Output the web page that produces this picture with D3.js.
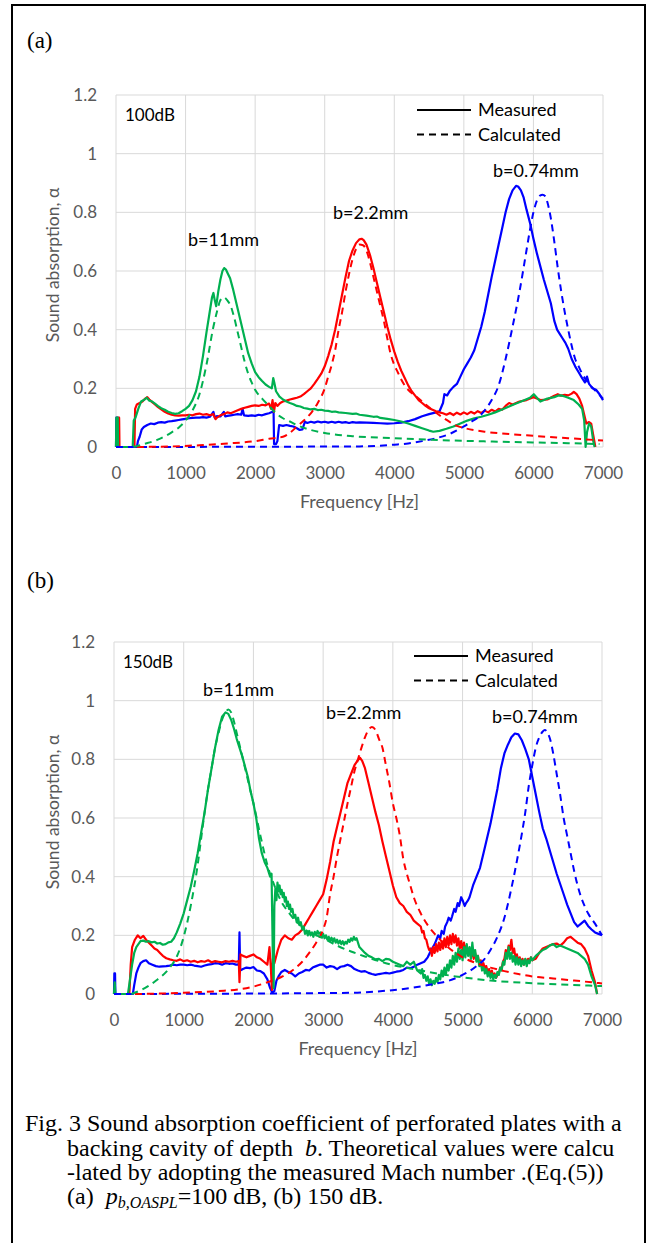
<!DOCTYPE html>
<html>
<head>
<meta charset="utf-8">
<title>Sound absorption</title>
<style>
  body { margin: 0; background: #fff; }
  svg { display: block; }
</style>
</head>
<body>
<div id="chart"></div>
<script src="https://cdnjs.cloudflare.com/ajax/libs/d3/7.8.5/d3.min.js"></script>
<script>
// axis ticks
var xTicks = [0, 1000, 2000, 3000, 4000, 5000, 6000, 7000];
var yTicks = [0, 0.2, 0.4, 0.6, 0.8, 1, 1.2];

// (a) 100 dB, measured  [frequency Hz, alpha]
var meas100Green = [[0,0],[5,0.1],[25,0.1],[30,0],[240,0],[255,0.09],[280,0.1],[320,0.13],[360,0.155],[400,0.16],[440,0.168],[480,0.158],[520,0.155],[560,0.148],[600,0.14],[650,0.132],[700,0.127],[750,0.12],[800,0.116],[850,0.113],[900,0.115],[950,0.122],[1000,0.13],[1050,0.14],[1100,0.16],[1150,0.19],[1200,0.24],[1250,0.31],[1300,0.39],[1340,0.45],[1380,0.51],[1400,0.525],[1420,0.5],[1440,0.48],[1470,0.53],[1500,0.57],[1530,0.6],[1555,0.61],[1580,0.605],[1610,0.59],[1640,0.575],[1680,0.54],[1720,0.5],[1760,0.46],[1800,0.42],[1850,0.37],[1900,0.32],[1950,0.285],[2000,0.255],[2050,0.238],[2100,0.225],[2150,0.213],[2200,0.205],[2240,0.2],[2260,0.235],[2275,0.22],[2300,0.19],[2350,0.172],[2400,0.162],[2450,0.155],[2500,0.15],[2550,0.146],[2600,0.14],[2650,0.138],[2700,0.133],[2750,0.131],[2800,0.128],[2850,0.13],[2900,0.126],[2950,0.127],[3000,0.124],[3050,0.123],[3100,0.12],[3150,0.121],[3200,0.118],[3300,0.116],[3400,0.113],[3450,0.114],[3500,0.11],[3600,0.107],[3700,0.103],[3750,0.104],[3800,0.099],[3900,0.096],[4000,0.092],[4100,0.087],[4200,0.08],[4300,0.072],[4400,0.064],[4500,0.056],[4560,0.052],[4650,0.055],[4750,0.062],[4850,0.07],[4950,0.08],[5050,0.09],[5150,0.098],[5250,0.103],[5350,0.11],[5450,0.118],[5550,0.128],[5650,0.138],[5750,0.148],[5850,0.158],[5950,0.168],[6005,0.18],[6050,0.168],[6100,0.155],[6150,0.16],[6200,0.165],[6300,0.17],[6350,0.175],[6400,0.176],[6450,0.172],[6500,0.168],[6580,0.16],[6650,0.145],[6700,0.13],[6730,0.09],[6750,0],[6770,0.05],[6800,0.08],[6830,0.07],[6860,0.02],[6880,0]];
var meas100Red = [[0,0],[25,0],[30,0.1],[45,0.1],[50,0],[265,0],[275,0.13],[300,0.145],[340,0.15],[380,0.155],[420,0.165],[450,0.17],[480,0.162],[520,0.153],[560,0.145],[600,0.137],[650,0.128],[700,0.12],[750,0.114],[800,0.11],[850,0.108],[900,0.107],[950,0.108],[1000,0.108],[1050,0.11],[1100,0.108],[1150,0.112],[1200,0.114],[1250,0.11],[1300,0.112],[1350,0.108],[1400,0.112],[1430,0.095],[1450,0.1],[1500,0.108],[1550,0.112],[1600,0.118],[1650,0.115],[1700,0.12],[1750,0.125],[1800,0.13],[1850,0.134],[1900,0.137],[1950,0.14],[2000,0.142],[2050,0.14],[2100,0.144],[2150,0.142],[2200,0.148],[2230,0.13],[2250,0.16],[2270,0.12],[2290,0.15],[2320,0.14],[2360,0.15],[2400,0.155],[2450,0.158],[2500,0.162],[2550,0.165],[2600,0.168],[2650,0.172],[2700,0.18],[2750,0.19],[2800,0.2],[2850,0.215],[2900,0.232],[2950,0.25],[3000,0.275],[3050,0.31],[3100,0.35],[3150,0.4],[3200,0.46],[3250,0.52],[3300,0.58],[3350,0.635],[3400,0.67],[3450,0.695],[3500,0.708],[3530,0.71],[3560,0.705],[3600,0.69],[3650,0.655],[3700,0.61],[3750,0.56],[3800,0.51],[3850,0.46],[3900,0.41],[3950,0.365],[4000,0.325],[4050,0.29],[4100,0.26],[4150,0.235],[4200,0.21],[4250,0.19],[4300,0.175],[4350,0.16],[4400,0.15],[4450,0.14],[4500,0.132],[4550,0.127],[4600,0.122],[4650,0.118],[4700,0.115],[4750,0.11],[4800,0.116],[4850,0.109],[4900,0.117],[4950,0.111],[5000,0.118],[5050,0.112],[5100,0.12],[5150,0.114],[5200,0.122],[5250,0.116],[5300,0.124],[5350,0.118],[5400,0.127],[5450,0.121],[5500,0.13],[5550,0.127],[5600,0.14],[5650,0.15],[5700,0.145],[5800,0.155],[5900,0.16],[6000,0.17],[6050,0.165],[6100,0.16],[6200,0.162],[6300,0.175],[6350,0.18],[6400,0.175],[6450,0.178],[6500,0.176],[6550,0.182],[6580,0.188],[6620,0.18],[6660,0.165],[6700,0.14],[6730,0.11],[6760,0.08],[6800,0.085],[6830,0.08],[6860,0.04],[6890,0]];
var meas100Blue = [[0,0],[5,0.1],[20,0.1],[25,0],[300,0],[315,0.02],[340,0.035],[370,0.06],[400,0.068],[450,0.075],[500,0.08],[550,0.078],[600,0.083],[650,0.085],[700,0.083],[750,0.087],[800,0.088],[850,0.09],[900,0.092],[950,0.094],[1000,0.096],[1050,0.098],[1100,0.099],[1150,0.1],[1200,0.1],[1250,0.102],[1300,0.1],[1350,0.103],[1400,0.12],[1420,0.1],[1450,0.105],[1500,0.104],[1550,0.12],[1570,0.104],[1600,0.106],[1650,0.108],[1700,0.11],[1750,0.112],[1800,0.11],[1820,0.13],[1840,0.108],[1900,0.106],[1950,0.108],[2000,0.106],[2050,0.11],[2100,0.108],[2150,0.112],[2200,0.115],[2250,0.12],[2265,0.12],[2272,0.01],[2300,0.01],[2320,0.02],[2345,0.075],[2400,0.072],[2450,0.075],[2500,0.072],[2550,0.07],[2600,0.064],[2640,0.058],[2680,0.06],[2715,0.086],[2750,0.082],[2800,0.086],[2850,0.083],[2900,0.087],[2950,0.084],[3000,0.086],[3050,0.083],[3100,0.086],[3150,0.083],[3200,0.086],[3250,0.083],[3300,0.085],[3350,0.082],[3400,0.085],[3450,0.083],[3500,0.084],[3600,0.083],[3700,0.082],[3800,0.081],[3900,0.08],[4000,0.081],[4100,0.083],[4200,0.088],[4300,0.095],[4400,0.105],[4500,0.112],[4600,0.118],[4650,0.122],[4700,0.15],[4720,0.18],[4760,0.176],[4800,0.192],[4850,0.205],[4900,0.215],[4950,0.24],[5000,0.265],[5050,0.285],[5100,0.305],[5150,0.33],[5200,0.37],[5250,0.41],[5300,0.46],[5350,0.52],[5400,0.58],[5450,0.635],[5500,0.69],[5550,0.745],[5600,0.8],[5650,0.845],[5700,0.875],[5750,0.89],[5780,0.888],[5820,0.875],[5860,0.85],[5900,0.81],[5950,0.765],[6000,0.71],[6050,0.66],[6100,0.615],[6150,0.57],[6200,0.53],[6250,0.49],[6300,0.43],[6340,0.4],[6380,0.385],[6420,0.37],[6460,0.355],[6500,0.335],[6550,0.3],[6600,0.275],[6650,0.255],[6700,0.235],[6740,0.22],[6770,0.24],[6800,0.215],[6850,0.2],[6900,0.195],[6950,0.18],[7000,0.16]];

// (a) 100 dB, calculated
var calc100Green = [[250,0],[400,0.01],[600,0.025],[800,0.05],[900,0.066],[1000,0.09],[1100,0.125],[1200,0.18],[1300,0.28],[1400,0.41],[1450,0.46],[1500,0.5],[1550,0.51],[1600,0.5],[1650,0.48],[1700,0.44],[1750,0.39],[1800,0.34],[1850,0.29],[1900,0.25],[1950,0.22],[2000,0.195],[2100,0.165],[2200,0.14],[2300,0.115],[2400,0.098],[2500,0.087],[2600,0.075],[2800,0.058],[3000,0.048],[3400,0.037],[4000,0.03],[4500,0.025],[5500,0.018],[6500,0.013],[6950,0.01]];
var calc100Red = [[300,0],[800,0.002],[1200,0.006],[1600,0.012],[2000,0.02],[2200,0.028],[2400,0.035],[2500,0.048],[2600,0.07],[2700,0.09],[2800,0.115],[2900,0.15],[3000,0.2],[3050,0.24],[3100,0.28],[3150,0.33],[3200,0.4],[3250,0.46],[3300,0.53],[3350,0.59],[3400,0.64],[3450,0.675],[3500,0.69],[3550,0.688],[3600,0.67],[3650,0.63],[3700,0.58],[3750,0.53],[3800,0.48],[3850,0.43],[3900,0.37],[3950,0.315],[4000,0.28],[4050,0.255],[4100,0.23],[4150,0.21],[4200,0.195],[4300,0.175],[4400,0.155],[4500,0.135],[4600,0.117],[4700,0.1],[4800,0.085],[4900,0.072],[5000,0.065],[5300,0.052],[5600,0.045],[6000,0.038],[6500,0.03],[7000,0.022]];
var calc100Blue = [[0,0],[3500,0.002],[4000,0.008],[4200,0.012],[4400,0.02],[4600,0.03],[4800,0.045],[5000,0.07],[5100,0.085],[5200,0.1],[5300,0.125],[5400,0.16],[5500,0.21],[5600,0.3],[5700,0.41],[5800,0.53],[5900,0.67],[5950,0.74],[6000,0.8],[6050,0.84],[6100,0.858],[6130,0.86],[6170,0.855],[6200,0.835],[6250,0.78],[6300,0.7],[6350,0.61],[6400,0.53],[6450,0.46],[6500,0.4],[6550,0.345],[6600,0.3],[6650,0.275],[6700,0.25],[6800,0.215],[6900,0.19],[7000,0.165]];

// (b) 150 dB, measured
var meas150Green = [[0,0],[10,0.04],[20,0],[200,0],[230,0.05],[260,0.1],[290,0.14],[320,0.16],[350,0.17],[380,0.18],[420,0.182],[460,0.178],[500,0.18],[540,0.176],[580,0.178],[620,0.172],[660,0.174],[700,0.168],[740,0.17],[780,0.176],[820,0.178],[860,0.19],[900,0.21],[950,0.24],[1000,0.275],[1050,0.32],[1100,0.365],[1150,0.42],[1200,0.48],[1250,0.55],[1300,0.62],[1350,0.7],[1400,0.77],[1450,0.84],[1500,0.9],[1550,0.945],[1600,0.96],[1640,0.955],[1680,0.935],[1720,0.905],[1760,0.87],[1800,0.84],[1840,0.81],[1880,0.775],[1920,0.74],[1960,0.69],[2000,0.65],[2040,0.6],[2080,0.53],[2120,0.48],[2160,0.45],[2200,0.43],[2240,0.4],[2260,0.41],[2280,0.1],[2290,0.02],[2300,0.3],[2315,0.36],[2330,0.32],[2345,0.38],[2360,0.35],[2375,0.37],[2390,0.34],[2405,0.355],[2420,0.33],[2435,0.345],[2450,0.315],[2465,0.33],[2480,0.3],[2495,0.315],[2510,0.29],[2525,0.305],[2540,0.28],[2560,0.29],[2580,0.26],[2600,0.27],[2620,0.245],[2640,0.26],[2660,0.235],[2680,0.245],[2700,0.22],[2720,0.23],[2740,0.205],[2760,0.215],[2780,0.2],[2800,0.215],[2820,0.2],[2840,0.21],[2860,0.195],[2880,0.212],[2900,0.2],[2920,0.215],[2940,0.205],[2960,0.21],[2980,0.195],[3000,0.205],[3020,0.19],[3040,0.2],[3060,0.185],[3080,0.195],[3100,0.18],[3120,0.192],[3140,0.178],[3160,0.19],[3180,0.175],[3200,0.185],[3220,0.172],[3240,0.182],[3260,0.17],[3280,0.18],[3300,0.168],[3320,0.178],[3340,0.172],[3360,0.185],[3380,0.178],[3400,0.19],[3420,0.182],[3440,0.195],[3460,0.185],[3480,0.19],[3520,0.16],[3560,0.15],[3600,0.14],[3650,0.13],[3700,0.125],[3750,0.118],[3800,0.12],[3850,0.112],[3900,0.12],[3950,0.118],[4000,0.11],[4050,0.105],[4100,0.1],[4150,0.095],[4200,0.11],[4250,0.1],[4300,0.11],[4350,0.08],[4400,0.07],[4420,0.085],[4440,0.055],[4460,0.065],[4480,0.045],[4500,0.06],[4520,0.035],[4540,0.05],[4560,0.03],[4580,0.045],[4600,0.035],[4620,0.055],[4640,0.04],[4660,0.065],[4680,0.05],[4700,0.08],[4720,0.06],[4740,0.09],[4760,0.065],[4780,0.1],[4800,0.08],[4820,0.115],[4840,0.09],[4860,0.13],[4880,0.1],[4900,0.14],[4920,0.11],[4940,0.155],[4960,0.12],[4980,0.15],[5000,0.115],[5020,0.16],[5040,0.125],[5060,0.17],[5080,0.13],[5100,0.16],[5120,0.12],[5140,0.175],[5160,0.13],[5180,0.15],[5200,0.11],[5220,0.13],[5240,0.095],[5260,0.11],[5280,0.08],[5300,0.095],[5320,0.07],[5340,0.085],[5360,0.06],[5380,0.075],[5400,0.055],[5420,0.07],[5440,0.05],[5460,0.065],[5480,0.055],[5500,0.075],[5520,0.065],[5540,0.09],[5560,0.08],[5580,0.11],[5600,0.1],[5620,0.14],[5640,0.12],[5660,0.16],[5680,0.12],[5700,0.14],[5720,0.11],[5740,0.13],[5760,0.1],[5780,0.125],[5800,0.1],[5820,0.12],[5840,0.095],[5860,0.115],[5880,0.1],[5900,0.12],[5920,0.095],[5940,0.115],[5960,0.105],[5980,0.125],[6000,0.115],[6050,0.13],[6100,0.14],[6150,0.15],[6200,0.155],[6250,0.165],[6300,0.17],[6350,0.16],[6400,0.165],[6450,0.16],[6500,0.155],[6550,0.15],[6600,0.145],[6650,0.14],[6700,0.13],[6750,0.12],[6800,0.1],[6850,0.06],[6900,0.03],[6930,0]];
var meas150Red = [[0,0],[220,0],[240,0.1],[260,0.16],[300,0.185],[340,0.2],[380,0.19],[420,0.198],[460,0.185],[500,0.175],[540,0.165],[580,0.155],[620,0.15],[660,0.14],[700,0.13],[750,0.122],[800,0.118],[850,0.115],[900,0.113],[950,0.118],[1000,0.112],[1050,0.115],[1100,0.11],[1150,0.113],[1200,0.108],[1250,0.112],[1300,0.11],[1350,0.115],[1400,0.108],[1450,0.112],[1500,0.11],[1550,0.108],[1600,0.112],[1650,0.11],[1700,0.113],[1750,0.11],[1790,0.112],[1800,0.04],[1815,0.135],[1850,0.13],[1900,0.125],[1950,0.13],[2000,0.135],[2050,0.125],[2100,0.12],[2150,0.11],[2200,0.1],[2230,0.16],[2250,0.09],[2265,0.014],[2280,0.12],[2300,0.105],[2350,0.15],[2400,0.185],[2450,0.2],[2500,0.19],[2550,0.185],[2600,0.2],[2650,0.207],[2700,0.22],[2750,0.24],[2800,0.26],[2850,0.28],[2900,0.3],[2950,0.32],[3000,0.34],[3050,0.39],[3100,0.45],[3150,0.52],[3200,0.57],[3250,0.62],[3300,0.67],[3350,0.72],[3400,0.75],[3450,0.78],[3500,0.798],[3530,0.805],[3560,0.795],[3600,0.77],[3650,0.72],[3700,0.67],[3750,0.62],[3800,0.575],[3850,0.52],[3900,0.47],[3950,0.42],[4000,0.37],[4050,0.33],[4100,0.31],[4150,0.3],[4200,0.28],[4250,0.27],[4300,0.25],[4350,0.24],[4400,0.23],[4420,0.21],[4440,0.215],[4460,0.19],[4480,0.185],[4500,0.165],[4520,0.15],[4540,0.155],[4560,0.13],[4580,0.16],[4600,0.14],[4620,0.17],[4640,0.145],[4660,0.175],[4680,0.15],[4700,0.18],[4720,0.155],[4740,0.19],[4760,0.16],[4780,0.195],[4800,0.165],[4820,0.2],[4840,0.17],[4860,0.205],[4880,0.175],[4900,0.2],[4920,0.165],[4940,0.19],[4960,0.155],[4980,0.18],[5000,0.15],[5020,0.175],[5040,0.145],[5060,0.165],[5080,0.135],[5100,0.155],[5120,0.125],[5140,0.145],[5160,0.12],[5180,0.14],[5200,0.115],[5220,0.13],[5240,0.1],[5260,0.115],[5280,0.09],[5300,0.105],[5320,0.08],[5340,0.095],[5360,0.075],[5380,0.085],[5400,0.065],[5420,0.08],[5440,0.06],[5460,0.07],[5480,0.055],[5500,0.065],[5520,0.07],[5540,0.09],[5560,0.085],[5580,0.11],[5600,0.12],[5620,0.15],[5640,0.13],[5660,0.165],[5680,0.15],[5700,0.185],[5720,0.14],[5740,0.155],[5760,0.12],[5780,0.135],[5800,0.11],[5820,0.125],[5840,0.105],[5860,0.12],[5880,0.1],[5900,0.118],[5920,0.105],[5940,0.12],[5960,0.11],[5980,0.125],[6000,0.115],[6050,0.12],[6100,0.14],[6150,0.155],[6200,0.16],[6250,0.165],[6300,0.17],[6350,0.172],[6400,0.165],[6450,0.175],[6500,0.19],[6550,0.195],[6600,0.185],[6650,0.175],[6700,0.17],[6750,0.155],[6800,0.13],[6850,0.08],[6900,0.04],[6930,0]];
var meas150Blue = [[0,0],[5,0.07],[15,0.07],[20,0],[270,0],[290,0.03],[320,0.07],[350,0.09],[380,0.105],[420,0.112],[460,0.115],[500,0.105],[550,0.1],[600,0.095],[650,0.093],[700,0.094],[750,0.095],[800,0.097],[850,0.1],[900,0.098],[950,0.1],[1000,0.1],[1050,0.098],[1100,0.1],[1150,0.097],[1200,0.095],[1250,0.093],[1300,0.097],[1350,0.1],[1400,0.102],[1450,0.105],[1500,0.104],[1550,0.1],[1600,0.105],[1650,0.103],[1700,0.104],[1750,0.1],[1790,0.1],[1800,0.21],[1810,0.08],[1850,0.085],[1900,0.09],[1950,0.088],[2000,0.092],[2050,0.08],[2100,0.078],[2150,0.07],[2200,0.05],[2240,0.02],[2270,0.005],[2300,0.01],[2330,0.045],[2360,0.06],[2400,0.075],[2450,0.082],[2500,0.075],[2550,0.07],[2600,0.06],[2650,0.07],[2700,0.075],[2750,0.082],[2800,0.08],[2850,0.09],[2900,0.095],[2950,0.1],[3000,0.1],[3050,0.09],[3100,0.095],[3150,0.093],[3200,0.085],[3250,0.093],[3300,0.095],[3350,0.1],[3400,0.095],[3450,0.085],[3500,0.08],[3550,0.076],[3600,0.078],[3650,0.072],[3700,0.068],[3750,0.065],[3800,0.068],[3850,0.07],[3900,0.072],[3950,0.07],[4000,0.073],[4050,0.076],[4100,0.078],[4150,0.082],[4200,0.09],[4250,0.088],[4300,0.093],[4350,0.1],[4400,0.105],[4450,0.11],[4500,0.125],[4550,0.15],[4600,0.17],[4650,0.2],[4680,0.19],[4700,0.215],[4730,0.205],[4750,0.23],[4780,0.245],[4800,0.26],[4830,0.25],[4850,0.265],[4880,0.29],[4900,0.28],[4930,0.31],[4950,0.3],[4980,0.33],[5000,0.32],[5030,0.3],[5050,0.31],[5080,0.32],[5100,0.33],[5150,0.37],[5200,0.4],[5250,0.43],[5300,0.48],[5350,0.53],[5400,0.58],[5450,0.64],[5500,0.7],[5550,0.77],[5600,0.82],[5650,0.85],[5700,0.875],[5750,0.888],[5800,0.885],[5850,0.865],[5900,0.835],[5950,0.8],[6000,0.74],[6050,0.68],[6100,0.62],[6150,0.565],[6200,0.53],[6250,0.49],[6300,0.45],[6350,0.41],[6400,0.375],[6450,0.34],[6500,0.305],[6550,0.275],[6600,0.245],[6650,0.23],[6700,0.24],[6750,0.25],[6800,0.232],[6850,0.22],[6900,0.21],[6950,0.205],[7000,0.2]];

// (b) 150 dB, calculated
var calc150Green = [[250,0],[400,0.015],[600,0.045],[800,0.09],[900,0.127],[1000,0.195],[1100,0.3],[1200,0.44],[1250,0.53],[1300,0.62],[1350,0.7],[1400,0.77],[1450,0.84],[1500,0.89],[1550,0.935],[1600,0.96],[1640,0.97],[1680,0.96],[1720,0.93],[1760,0.89],[1800,0.85],[1850,0.8],[1900,0.75],[1950,0.7],[2000,0.65],[2100,0.54],[2200,0.44],[2300,0.37],[2400,0.315],[2500,0.28],[2600,0.25],[2700,0.23],[2800,0.21],[2900,0.2],[3000,0.19],[3200,0.165],[3400,0.145],[3600,0.128],[3900,0.105],[4400,0.08],[4900,0.06],[5400,0.046],[6000,0.037],[7000,0.027]];
var calc150Red = [[300,0],[1000,0.004],[1500,0.01],[1800,0.016],[2000,0.025],[2200,0.04],[2400,0.058],[2600,0.088],[2700,0.11],[2800,0.14],[2900,0.175],[3000,0.22],[3050,0.26],[3100,0.34],[3150,0.4],[3200,0.47],[3250,0.53],[3300,0.59],[3350,0.65],[3400,0.705],[3450,0.76],[3500,0.8],[3550,0.84],[3600,0.875],[3650,0.9],[3700,0.91],[3750,0.9],[3800,0.87],[3850,0.84],[3900,0.78],[3950,0.72],[4000,0.65],[4050,0.6],[4100,0.54],[4150,0.46],[4200,0.41],[4250,0.37],[4300,0.33],[4400,0.275],[4500,0.235],[4600,0.205],[4700,0.18],[4800,0.158],[4900,0.14],[5000,0.125],[5200,0.105],[5400,0.09],[5600,0.078],[5800,0.068],[6000,0.06],[6300,0.053],[6600,0.046],[7000,0.036]];
var calc150Blue = [[0,0],[3400,0.004],[3900,0.011],[4300,0.022],[4600,0.035],[4800,0.045],[5000,0.065],[5100,0.078],[5200,0.095],[5300,0.115],[5400,0.15],[5500,0.195],[5600,0.26],[5700,0.36],[5800,0.48],[5850,0.546],[5900,0.62],[5950,0.71],[6000,0.78],[6050,0.84],[6100,0.875],[6150,0.895],[6180,0.9],[6220,0.89],[6260,0.865],[6300,0.82],[6350,0.75],[6400,0.68],[6450,0.6],[6500,0.54],[6550,0.48],[6600,0.42],[6650,0.37],[6700,0.33],[6750,0.3],[6800,0.275],[6900,0.24],[7000,0.2]];

var BLUE = "#0000ff", RED = "#ff0000", GREEN = "#00b050";
var uiFont = "Lato, 'Open Sans', sans-serif";
var serif = "'Liberation Serif', 'Times New Roman', serif";

var svg = d3.select("#chart").append("svg")
	.attr("width", 651)
	.attr("height", 1243);

// outer frame
svg.append("rect")
	.attr("x", 12).attr("y", 5)
	.attr("width", 633).attr("height", 1260)
	.attr("fill", "none")
	.attr("stroke", "#000")
	.attr("stroke-width", 2);

var panels = [
	{ tag: "(a)", tagY: 40, level: "100dB", left: 116, right: 603, top: 95, bottom: 447,
	  titleY: 265, xTitleY: 502,
	  legend: { x: 417, y: 110 },
	  labels: [["b=11mm", 188, 240], ["b=2.2mm", 333, 213], ["b=0.74mm", 493, 171]],
	  series: [[meas100Blue, BLUE, false], [meas100Red, RED, false], [meas100Green, GREEN, false],
	           [calc100Blue, BLUE, true], [calc100Red, RED, true], [calc100Green, GREEN, true]] },
	{ tag: "(b)", tagY: 580, level: "150dB", left: 114, right: 602, top: 642, bottom: 994,
	  titleY: 812, xTitleY: 1049,
	  legend: { x: 414, y: 656 },
	  labels: [["b=11mm", 203, 690], ["b=2.2mm", 326, 713], ["b=0.74mm", 492, 717]],
	  series: [[meas150Blue, BLUE, false], [meas150Red, RED, false], [meas150Green, GREEN, false],
	           [calc150Blue, BLUE, true], [calc150Red, RED, true], [calc150Green, GREEN, true]] }
];

panels.forEach(drawPanel);

function drawPanel(p) {
	var x = d3.scaleLinear().domain([0, 7000]).range([p.left, p.right]);
	var y = d3.scaleLinear().domain([0, 1.2]).range([p.bottom, p.top]);
	var g = svg.append("g");

	// gridlines
	g.selectAll(".hgrid").data(yTicks).enter().append("line")
		.attr("x1", p.left).attr("x2", p.right)
		.attr("y1", function(d){ return y(d); })
		.attr("y2", function(d){ return y(d); })
		.attr("stroke", "#d9d9d9").attr("stroke-width", 1);
	g.selectAll(".vgrid").data(xTicks).enter().append("line")
		.attr("y1", p.top).attr("y2", p.bottom)
		.attr("x1", function(d){ return x(d); })
		.attr("x2", function(d){ return x(d); })
		.attr("stroke", "#d9d9d9").attr("stroke-width", 1);

	// axes (labels only, Excel style)
	var xAxis = g.append("g")
		.attr("transform", "translate(0," + p.bottom + ")")
		.call(d3.axisBottom(x).tickValues(xTicks).tickSize(0).tickPadding(20).tickFormat(d3.format("d")));
	var yAxis = g.append("g")
		.attr("transform", "translate(" + p.left + ",0)")
		.call(d3.axisLeft(y).tickValues(yTicks).tickSize(0).tickPadding(19)
			.tickFormat(function(d){ return d3.format("~g")(d); }));
	[xAxis, yAxis].forEach(function(a){
		a.select(".domain").remove();
		a.selectAll("text").attr("fill", "#595959")
			.style("font-family", uiFont).style("font-size", "17px");
	});

	// axis titles
	g.append("text")
		.attr("x", (p.left + p.right) / 2).attr("y", p.xTitleY)
		.attr("dy", "0.35em").attr("text-anchor", "middle")
		.attr("fill", "#595959")
		.style("font-family", uiFont).style("font-size", "18px")
		.text("Frequency [Hz]");
	g.append("text")
		.attr("transform", "translate(53," + p.titleY + ") rotate(-90)")
		.attr("dy", "0.35em").attr("text-anchor", "middle")
		.attr("fill", "#595959")
		.style("font-family", uiFont).style("font-size", "17.5px")
		.text("Sound absorption, α");

	// curves
	var lineMeas = d3.line()
		.x(function(d){ return x(d[0]); })
		.y(function(d){ return y(d[1]); });
	var lineCalc = d3.line()
		.curve(d3.curveMonotoneX)
		.x(function(d){ return x(d[0]); })
		.y(function(d){ return y(d[1]); });

	p.series.forEach(function(s) {
		g.append("path")
			.datum(s[0])
			.attr("d", s[2] ? lineCalc : lineMeas)
			.attr("fill", "none")
			.attr("stroke", s[1])
			.attr("stroke-width", s[2] ? 2 : 2.2)
			.attr("stroke-linejoin", "round")
			.attr("stroke-dasharray", s[2] ? "7,5" : null);
	});

	// panel tag and level
	svg.append("text")
		.attr("x", 27).attr("y", p.tagY).attr("dy", "0.35em")
		.style("font-family", serif)
		.style("font-size", "23px")
		.text(p.tag);
	g.append("text")
		.attr("x", p.left + 9).attr("y", p.top + 20).attr("dy", "0.35em")
		.style("font-family", uiFont).style("font-size", "17px")
		.text(p.level);

	// peak labels
	g.selectAll(".peak").data(p.labels).enter().append("text")
		.attr("x", function(d){ return d[1]; })
		.attr("y", function(d){ return d[2]; })
		.attr("dy", "0.35em")
		.style("font-family", uiFont).style("font-size", "18px")
		.text(function(d){ return d[0]; });

	// legend
	var lg = g.append("g");
	[["Measured", null], ["Calculated", "7,5"]].forEach(function(item, i) {
		var ly = p.legend.y + i * 24.5;
		lg.append("line")
			.attr("x1", p.legend.x).attr("x2", p.legend.x + 54)
			.attr("y1", ly).attr("y2", ly)
			.attr("stroke", "#000").attr("stroke-width", 2)
			.attr("stroke-dasharray", item[1]);
		lg.append("text")
			.attr("x", p.legend.x + 61).attr("y", ly).attr("dy", "0.35em")
			.style("font-family", uiFont).style("font-size", "18px")
			.text(item[0]);
	});
}

// caption
var cap = svg.append("text")
	.style("font-family", serif)
	.style("font-size", "24px")
	.style("white-space", "pre")
	.attr("fill", "#000");
cap.append("tspan").attr("x", 25).attr("y", 1131)
	.text("Fig. 3 Sound absorption coefficient of perforated plates with a");
var l2 = cap.append("tspan").attr("x", 67).attr("y", 1156);
l2.append("tspan").text("backing cavity of depth  ");
l2.append("tspan").style("font-style", "italic").text("b");
l2.append("tspan").text(". Theoretical values were calcu");
cap.append("tspan").attr("x", 67).attr("y", 1180)
	.text("-lated by adopting the measured Mach number .(Eq.(5))");
var l4 = cap.append("tspan").attr("x", 67).attr("y", 1204);
l4.append("tspan").text("(a)  ");
l4.append("tspan").style("font-style", "italic").text("p");
l4.append("tspan").style("font-style", "italic").style("font-size", "16px")
	.attr("dy", 4).text("b,OASPL");
l4.append("tspan").attr("dy", -4).text("=100 dB, (b) 150 dB.");
</script>
</body>
</html>
